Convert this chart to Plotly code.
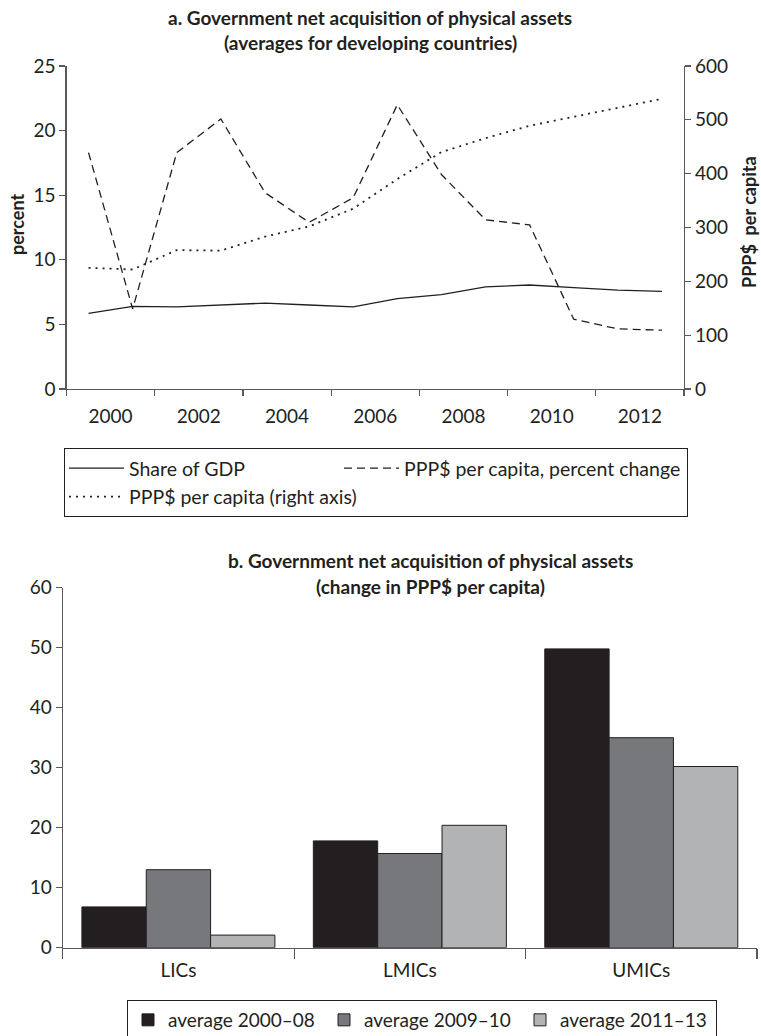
import plotly.graph_objects as go

# ---------------- data ----------------
years = list(range(2000, 2014))
share_gdp = [5.85, 6.4, 6.35, 6.5, 6.65, 6.5, 6.35, 7.0, 7.3, 7.9, 8.05, 7.85, 7.65, 7.55]
pct_change = [18.3, 6.2, 18.3, 20.9, 15.2, 12.9, 14.8, 22.0, 16.6, 13.1, 12.7, 5.4, 4.65, 4.55]
ppp_per_capita = [225, 222, 258, 257, 283, 302, 335, 390, 440, 466, 489, 506, 522, 539]
year_labels = ["2000", "2002", "2004", "2006", "2008", "2010", "2012"]

groups = ["LICs", "LMICs", "UMICs"]
avg_2000_08 = [6.8, 17.8, 49.8]
avg_2009_10 = [13.0, 15.7, 35.0]
avg_2011_13 = [2.1, 20.4, 30.2]

# ---------------- style ----------------
W, H = 761, 1036
FONT = "Lato"
TXT = "#231f20"
AX = "#58595b"


def px(x):
    return x / W


def py(y):
    return 1 - y / H


fig = go.Figure()

# Panel a lines (legend grouped into two columns)
fig.add_trace(go.Scatter(x=years, y=share_gdp, mode="lines", name="Share of GDP",
                         legendgroup="c1", legendwidth=205,
                         line=dict(color=TXT, width=1.3), xaxis="x", yaxis="y"))
fig.add_trace(go.Scatter(x=years, y=pct_change, mode="lines",
                         name="PPP$ per capita, percent change",
                         legendgroup="c2", legendwidth=278,
                         line=dict(color=TXT, width=1.3, dash="8px,5px"), xaxis="x", yaxis="y"))
fig.add_trace(go.Scatter(x=years, y=ppp_per_capita, mode="lines",
                         name="PPP$ per capita (right axis)",
                         legendgroup="c1", legendwidth=205,
                         line=dict(color=TXT, width=1.8, dash="2px,5px"), xaxis="x", yaxis="y2"))

# Panel b bars
bar_colors = ["#231f20", "#77787b", "#b1b3b5"]
bar_names = ["average 2000–08", "average 2009–10", "average 2011–13"]
for vals, c, n in zip([avg_2000_08, avg_2009_10, avg_2011_13], bar_colors, bar_names):
    fig.add_trace(go.Bar(x=groups, y=vals, name=n, marker=dict(color=c, line=dict(color=TXT, width=1)),
                         xaxis="x3", yaxis="y3", legend="legend2"))

half_years = [y + 0.5 for y in years[::2]]
boundaries = [years[0] - 0.5 + 2 * i for i in range(len(years) // 2 + 1)]

tickfont = dict(family=FONT, size=19, color=TXT)

fig.update_layout(
    width=W, height=H,
    margin=dict(l=0, r=0, t=0, b=0, autoexpand=False),
    paper_bgcolor="white", plot_bgcolor="white",
    font=dict(family=FONT, color=TXT),
    showlegend=True,
    barmode="group", bargap=0.166, bargroupgap=0,
    xaxis=dict(domain=[px(66.5), px(684)], range=[years[0] - 0.5, years[-1] + 0.5],
               anchor="y", showgrid=False, zeroline=False, showline=True, linecolor=AX, linewidth=1.2,
               tickmode="array", tickvals=half_years, ticktext=year_labels, ticks="",
               ticklabelstandoff=10, tickfont=tickfont,
               minor=dict(tickmode="array", tickvals=boundaries, ticks="outside", ticklen=6,
                          tickcolor=AX, tickwidth=1.2, showgrid=False)),
    yaxis=dict(domain=[py(389), py(66)], range=[0, 25], dtick=5, anchor="x",
               showgrid=False, zeroline=False, showline=True, linecolor=AX, linewidth=1.2,
               ticks="outside", ticklen=6, tickcolor=AX, tickwidth=1.2, tickfont=tickfont),
    yaxis2=dict(range=[0, 600], dtick=100, overlaying="y", side="right", anchor="x",
                showgrid=False, zeroline=False, showline=True, linecolor=AX, linewidth=1.2,
                ticks="outside", ticklen=6, tickcolor=AX, tickwidth=1.2, tickfont=tickfont),
    xaxis3=dict(domain=[px(62.7), px(757)], anchor="y3", type="category",
                showgrid=False, zeroline=False, showline=True, linecolor=AX, linewidth=1.2,
                ticks="outside", tickson="boundaries", ticklen=10, tickcolor=AX, tickwidth=1.2,
                ticklabelstandoff=5, tickfont=tickfont),
    yaxis3=dict(domain=[py(947.7), py(587.7)], range=[0, 60], dtick=10, anchor="x3",
                showgrid=False, zeroline=False, showline=True, linecolor=AX, linewidth=1.2,
                ticks="outside", ticklen=6, tickcolor=AX, tickwidth=1.2, tickfont=tickfont),
    legend=dict(x=px(64), y=py(448), xanchor="left", yanchor="top", orientation="h",
                traceorder="grouped", tracegroupgap=0, itemwidth=55,
                bordercolor=TXT, borderwidth=1, bgcolor="white",
                font=dict(family=FONT, size=19.5, color=TXT)),
    legend2=dict(x=px(127), y=py(1000), xanchor="left", yanchor="top", orientation="h",
                 bordercolor=TXT, borderwidth=1, bgcolor="white",
                 font=dict(family=FONT, size=19, color=TXT),
                 entrywidth=151, entrywidthmode="pixels"),
)

title_font = dict(family=FONT, size=19, color=TXT)
annotations = [
    dict(text="<b>a. Government net acquisition of physical assets</b>", x=px(370), y=py(17)),
    dict(text="<b>(averages for developing countries)</b>", x=px(370), y=py(42)),
    dict(text="<b>b. Government net acquisition of physical assets</b>", x=px(430), y=py(560)),
    dict(text="<b>(change in PPP$ per capita)</b>", x=px(430), y=py(586)),
]
for a in annotations:
    fig.add_annotation(xref="paper", yref="paper", xanchor="center", yanchor="middle",
                       showarrow=False, font=title_font, **a)

axis_title_font = dict(family=FONT, size=18, color=TXT)
fig.add_annotation(text="<b>percent</b>", x=px(17), y=py(225), xref="paper", yref="paper",
                   xanchor="center", yanchor="middle",
                   textangle=-90, showarrow=False, font=axis_title_font)
fig.add_annotation(text="<b>PPP$  per capita</b>", x=px(749), y=py(222), xref="paper", yref="paper",
                   xanchor="center", yanchor="middle",
                   textangle=-90, showarrow=False, font=axis_title_font)

fig.write_html("out.html",
               config={"displayModeBar": False, "staticPlot": True},
               post_script="document.body.style.margin='0';document.body.style.overflow='hidden';")
